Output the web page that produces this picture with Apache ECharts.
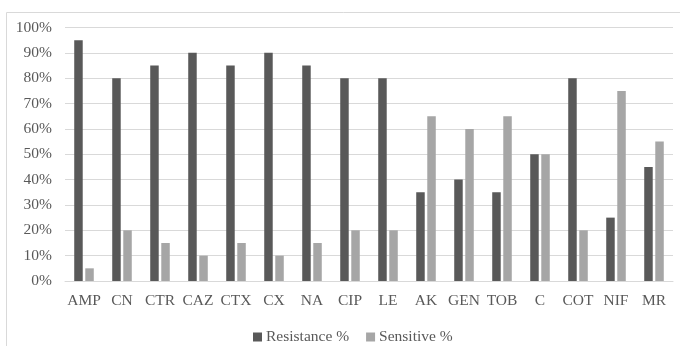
<!DOCTYPE html>
<html><head><meta charset="utf-8">
<script src="https://cdn.jsdelivr.net/npm/echarts@6/dist/echarts.min.js"></script>
<style>html,body{margin:0;padding:0;background:#fff}#c{width:680px;height:346px}</style>
</head><body><div id="c"></div>
<script>
var categories = ['AMP','CN','CTR','CAZ','CTX','CX','NA','CIP','LE','AK','GEN','TOB','C','COT','NIF','MR'];
var resistance = [95,80,85,90,85,90,85,80,80,35,40,35,50,80,25,45];
var sensitive = [5,20,15,10,15,10,15,20,20,65,60,65,50,20,75,55];
var seriesNames = ['Resistance %','Sensitive %'];

var chart = echarts.init(document.getElementById('c'), null, {renderer:'canvas'});
var font = 'Liberation Serif';
chart.setOption({
  animation:false,
  graphic:[{type:'rect',left:4,top:10,shape:{width:720,height:400},style:{fill:'none',stroke:'#d9d9d9',lineWidth:1},silent:true,z:-1}],
  grid:{left:65,right:7,top:27.5,bottom:65},
  legend:{data:seriesNames,top:324,left:248,itemWidth:9,itemHeight:9,itemGap:17,icon:'rect',
    textStyle:{fontFamily:font,fontSize:15.5,color:'#595959',padding:[0,0,0,-1]}},
  xAxis:{type:'category',data:categories,
    axisLine:{lineStyle:{color:'#d9d9d9'}},axisTick:{show:false},
    axisLabel:{fontFamily:font,fontSize:15.5,color:'#595959',margin:12,interval:0}},
  yAxis:{type:'value',min:0,max:100,interval:10,
    axisLabel:{formatter:'{value}%',fontFamily:font,fontSize:15.5,color:'#595959',margin:13},
    splitLine:{lineStyle:{color:'#d9d9d9'}},axisLine:{show:false},axisTick:{show:false}},
  series:[
    {name:seriesNames[0],type:'bar',data:resistance,barWidth:8.5,barGap:'30%',itemStyle:{color:'#595959'}},
    {name:seriesNames[1],type:'bar',data:sensitive,barWidth:8.5,itemStyle:{color:'#a6a6a6'}}
  ]
});
</script></body></html>
